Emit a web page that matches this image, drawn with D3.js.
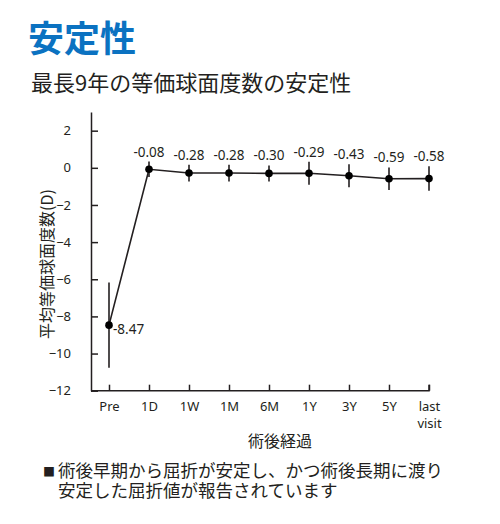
<!DOCTYPE html>
<html><head><meta charset="utf-8">
<script src="https://cdn.jsdelivr.net/npm/d3@7"></script>
<style>
body{margin:0;background:#fff;}
svg{display:block;}
text{fill:#231f20;}
</style></head>
<body>
<svg id="c" width="500" height="524"></svg>
<script>
const categories = ["Pre","1D","1W","1M","6M","1Y","3Y","5Y","last visit"];
const values = [-8.47,-0.08,-0.28,-0.28,-0.30,-0.29,-0.43,-0.59,-0.58];
const errors = [2.3,0.42,0.45,0.45,0.43,0.62,0.62,0.61,0.66];
const labels = ["-8.47","-0.08","-0.28","-0.28","-0.30","-0.29","-0.43","-0.59","-0.58"];
const yTicks = [2,0,-2,-4,-6,-8,-10,-12];

const svg = d3.select("#c");
const jp = "'Noto Sans CJK JP','Noto Sans',sans-serif";
const lat = "'Noto Sans','Open Sans',sans-serif";

svg.append("text").attr("x",28).attr("y",36).attr("dominant-baseline","central")
  .style("font-family",jp).style("font-size","36px").style("font-weight","700")
  .style("fill","#0b72c1").text("安定性");
svg.append("text").attr("x",31).attr("y",81).attr("dominant-baseline","central")
  .style("font-family",jp).style("font-size","22px").text("最長9年の等価球面度数の安定性");

const x = d3.scalePoint().domain(categories).range([109,429]);
const y = d3.scaleLinear().domain([-12,3]).range([390.7,112.1]);
const axX0 = 91;

const g = svg.append("g");
// y axis
const ya = g.append("g").attr("transform",`translate(${axX0},0)`)
  .call(d3.axisLeft(y).tickValues(yTicks).tickSizeInner(-7).tickSizeOuter(0).tickPadding(20).tickFormat(d3.format("d")));
ya.select(".domain").attr("stroke","#231f20").attr("stroke-width",1.5);
ya.selectAll(".tick line").attr("stroke","#231f20").attr("stroke-width",1.5);
ya.selectAll(".tick text").style("font-family",lat).style("font-size","13px").attr("fill","#231f20");

// x axis
const xa = g.append("g").attr("transform",`translate(0,${y(-12)})`)
  .call(d3.axisBottom(x).tickSizeInner(-6).tickSizeOuter(0).tickPadding(9).tickFormat(""));
xa.select(".domain").attr("d",`M${axX0},0H${x("last visit")}V-6`).attr("stroke","#231f20").attr("stroke-width",1.5);
xa.selectAll(".tick line").attr("stroke","#231f20").attr("stroke-width",1.5);
xa.selectAll(".tick").each(function(d){
  const t = d3.select(this).append("text").attr("y",20).attr("text-anchor","middle")
    .style("font-family",lat).style("font-size","13px").attr("fill","#231f20");
  d.split(" ").forEach((w,i)=>t.append("tspan").attr("x",0).attr("dy",i?17:0).text(w));
});

// axis titles
svg.append("text").attr("transform","translate(46,264) rotate(-90)").attr("text-anchor","middle")
  .attr("dominant-baseline","central").style("font-family",jp).style("font-size","16px").text("平均等価球面度数(D)");
svg.append("text").attr("x",280).attr("y",440).attr("text-anchor","middle").attr("dominant-baseline","central")
  .style("font-family",jp).style("font-size","16px").text("術後経過");

const data = categories.map((c,i)=>({c,v:values[i],e:errors[i],l:labels[i]}));

// error bars
g.selectAll(".eb").data(data).enter().append("line")
  .attr("x1",d=>x(d.c)).attr("x2",d=>x(d.c))
  .attr("y1",d=>y(d.v+d.e)).attr("y2",d=>y(d.v-d.e))
  .attr("stroke","#231f20").attr("stroke-width",1.6);
// line
g.append("path").datum(data)
  .attr("d",d3.line().x(d=>x(d.c)).y(d=>y(d.v)))
  .attr("fill","none").attr("stroke","#231f20").attr("stroke-width",1.6);
// dots
g.selectAll(".dot").data(data).enter().append("circle")
  .attr("cx",d=>x(d.c)).attr("cy",d=>y(d.v)).attr("r",3.8).attr("fill","#000");
// labels
g.selectAll(".lab").data(data).enter().append("text")
  .attr("x",(d,i)=> i===0 ? x(d.c)+4 : x(d.c))
  .attr("y",(d,i)=> i===0 ? y(d.v)+9 : y(d.v+d.e)-5)
  .attr("text-anchor",(d,i)=> i===0 ? "start" : "middle")
  .style("font-family",lat).style("font-size","13.5px").text(d=>d.l);

// note
const note = svg.append("text").style("font-family",jp).style("font-size","17.5px");
const l1 = note.append("tspan").attr("x",43).attr("y",477);
l1.append("tspan").style("font-size","12px").text("■");
l1.append("tspan").attr("x",58).text("術後早期から屈折が安定し、かつ術後長期に渡り");
note.append("tspan").attr("x",58).attr("y",496.5).text("安定した屈折値が報告されています");
</script>
</body></html>
